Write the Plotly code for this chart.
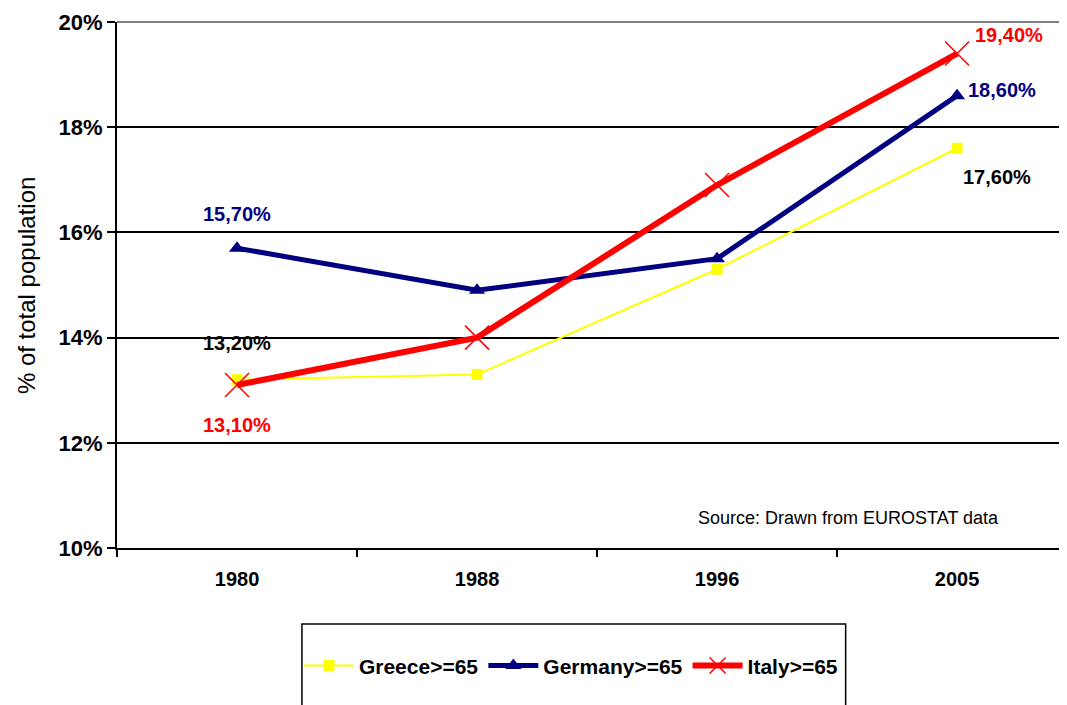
import plotly.graph_objects as go

years = ["1980", "1988", "1996", "2005"]
greece = [13.2, 13.3, 15.3, 17.6]
germany = [15.7, 14.9, 15.5, 18.6]
italy = [13.1, 14.0, 16.9, 19.4]

FONT = "Liberation Sans, Arial"

fig = go.Figure()
fig.add_trace(go.Scatter(
    x=years, y=greece, name="Greece>=65", mode="lines+markers",
    line=dict(color="#FFFF00", width=2),
    marker=dict(symbol="square", size=11, color="#FFFF00"),
))
fig.add_trace(go.Scatter(
    x=years, y=germany, name="Germany>=65", mode="lines+markers",
    line=dict(color="#000080", width=5),
    marker=dict(symbol="triangle-up", size=14, color="#000080"),
))
fig.add_trace(go.Scatter(
    x=years, y=italy, name="Italy>=65", mode="lines+markers",
    line=dict(color="#FF0000", width=6),
    marker=dict(symbol="x-thin-open", size=24, line=dict(color="#FF0000", width=1.5)),
))

def lab(i, vals, color, dx, dy):
    txt = f"{vals[i]:.2f}%".replace(".", ",")
    # category axis: use the index so "1980" is not read as a position
    fig.add_annotation(x=i, y=vals[i], text=txt, showarrow=False,
                       xshift=dx, yshift=dy,
                       font=dict(family=FONT, size=20, color=color, weight="bold"))

lab(0, germany, "#000080", 0, 34)
lab(0, greece, "#000000", 0, 37)
lab(0, italy, "#FF0000", 0, -40)
lab(3, italy, "#FF0000", 52, 19)
lab(3, germany, "#000080", 45, 6)
lab(3, greece, "#000000", 40, -29)

fig.add_annotation(xref="paper", yref="paper", x=0.6095, y=0.057, xanchor="left", yanchor="middle",
                   text="Source: Drawn from EUROSTAT data", showarrow=False,
                   font=dict(family=FONT, size=18, color="#000000"))
fig.add_annotation(xref="paper", yref="paper", x=-0.112, y=0.5, textangle=-90,
                   text="% of total population", showarrow=False,
                   font=dict(family=FONT, size=24, color="#000000"))

# grey top border and legend box
fig.add_shape(type="line", xref="paper", yref="paper", x0=0, x1=1, y0=1, y1=1,
              line=dict(color="#808080", width=2))
fig.add_shape(type="rect", xref="paper", yref="paper", x0=0.1947, x1=0.767, y0=-0.1445, y1=-0.40,
              line=dict(color="#000000", width=1.5), fillcolor="rgba(0,0,0,0)")

fig.update_xaxes(type="category", range=[-0.5, 3.458], showline=True, linecolor="#000000", linewidth=2,
                 ticks="outside", ticklen=7, tickwidth=1.5, tickcolor="#000000", tickson="boundaries",
                 showgrid=False, automargin=False, ticklabelstandoff=12,
                 tickfont=dict(family=FONT, size=20, color="#000000", weight="bold"))
fig.update_yaxes(range=[10, 20], dtick=2, ticksuffix="%", showline=True, linecolor="#000000", linewidth=2,
                 ticks="outside", ticklen=8, tickwidth=1.5, tickcolor="#000000",
                 gridcolor="#000000", gridwidth=1.5, zeroline=False, automargin=False,
                 tickfont=dict(family=FONT, size=22, color="#000000", weight="bold"))

fig.update_layout(
    width=1059, height=697, margin=dict(l=109, r=0, t=14, b=157),
    plot_bgcolor="white", paper_bgcolor="white",
    legend=dict(orientation="h", x=0.1915, xanchor="left", y=-0.185, yanchor="top",
                font=dict(family=FONT, size=21, color="#000000", weight="bold"),
                bgcolor="rgba(0,0,0,0)", itemwidth=50),
)

fig.write_html("out.html")
